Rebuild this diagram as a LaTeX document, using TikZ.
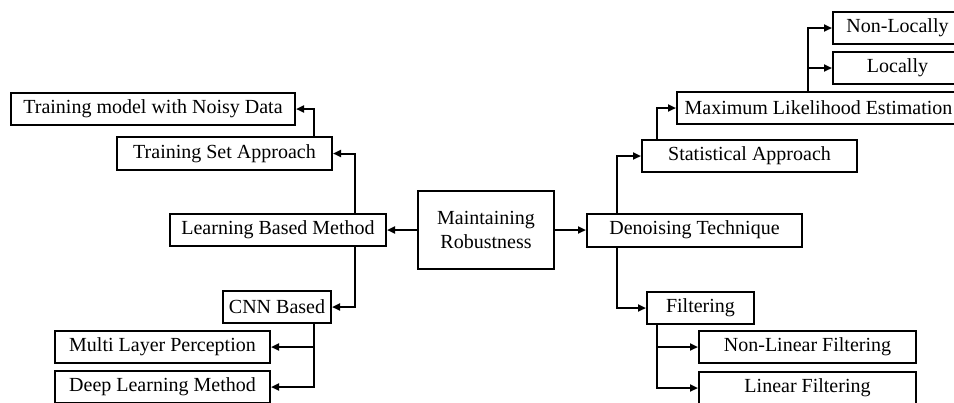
\documentclass[tikz,border=0pt]{standalone}
\usepackage{fontspec}
\setmainfont{Liberation Serif}
\usetikzlibrary{arrows.meta}
\begin{document}
\begin{tikzpicture}[x=1bp,y=-1bp,
  box/.style={draw, line width=2bp, fill=white, inner sep=0pt, minimum height=32bp,
    font=\fontsize{20bp}{24bp}\selectfont, align=center},
  arr/.style={line width=2bp, -{Triangle[length=8bp,width=7bp]}}]
\useasboundingbox (0,0) rectangle (954,402);
% nodes
\node[box, minimum width=136bp, minimum height=78bp] (mr) at (486,230) {Maintaining\\Robustness};
\node[box, minimum width=216bp] (lbm) at (278,230) {Learning Based Method};
\node[box, minimum width=215bp, minimum height=33bp] (tsa) at (224.5,153.5) {Training Set Approach};
\node[box, minimum width=284bp] (tmnd) at (153,109) {Training model with Noisy Data};
\node[box, minimum width=108bp] (cnn) at (277,307) {CNN Based};
\node[box, minimum width=215bp] (mlp) at (162.5,347) {Multi Layer Perception};
\node[box, minimum width=215bp] (dlm) at (162.5,387) {Deep Learning Method};
\node[box, minimum width=215bp, minimum height=33bp] (dt) at (694.5,230) {Denoising Technique};
\node[box, minimum width=215bp] (sa) at (749.5,156) {Statistical Approach};
\node[box, minimum width=283bp] (mle) at (818.5,108) {Maximum Likelihood Estimation};
\node[box, minimum width=129bp] (nl) at (897.5,28) {Non-Locally};
\node[box, minimum width=129bp] (loc) at (897.5,68) {Locally};
\node[box, minimum width=107bp] (filt) at (700.5,308) {Filtering};
\node[box, minimum width=217bp] (nlf) at (807.5,347) {Non-Linear Filtering};
\node[box, minimum width=217bp] (lf) at (807.5,388) {Linear Filtering};
% connectors
\draw[arr] (mr.west) -- (lbm.east);
\draw[arr] (mr.east) -- (dt.west);
\draw[arr] ([xshift=77bp]lbm.north) |- (tsa.east);
\draw[arr] ([xshift=89.5bp]tsa.north) |- (tmnd.east);
\draw[arr] ([xshift=77bp]lbm.south) |- (cnn.east);
\draw[arr] ([xshift=37bp]cnn.south) |- (mlp.east);
\draw[arr] ([xshift=37bp]cnn.south) |- (dlm.east);
\draw[arr] ([xshift=-77.5bp]dt.north) |- (sa.west);
\draw[arr] ([xshift=-92.5bp]sa.north) |- (mle.west);
\draw[arr] ([xshift=-10.5bp]mle.north) |- (nl.west);
\draw[arr] ([xshift=-10.5bp]mle.north) |- (loc.west);
\draw[arr] ([xshift=-77.5bp]dt.south) |- (filt.west);
\draw[arr] ([xshift=-43.5bp]filt.south) |- (nlf.west);
\draw[arr] ([xshift=-43.5bp]filt.south) |- (lf.west);
\end{tikzpicture}
\end{document}
